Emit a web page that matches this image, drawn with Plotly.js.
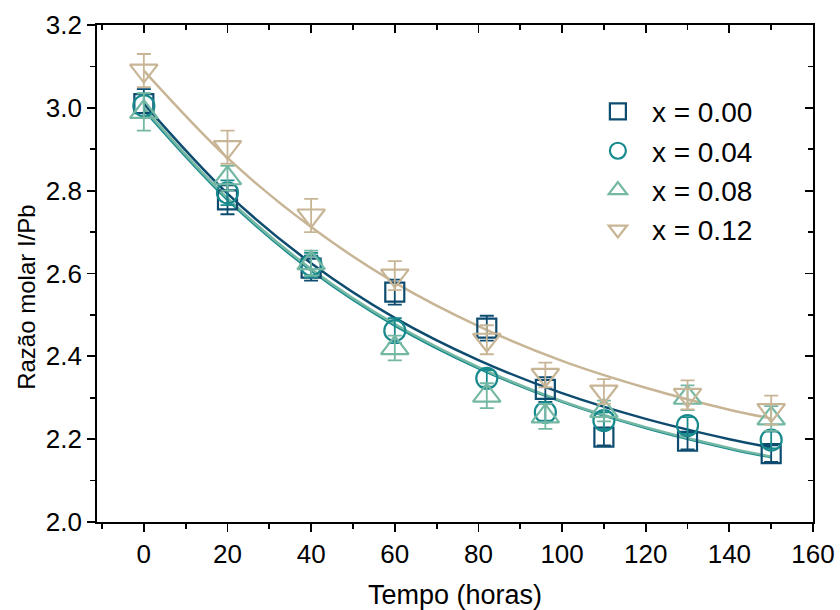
<!DOCTYPE html>
<html>
<head>
<meta charset="utf-8">
<script src="https://cdn.plot.ly/plotly-3.0.1.min.js"></script>
<style>html,body{margin:0;padding:0;background:#fff;}#chart{width:840px;height:610px;}</style>
</head>
<body>
<div id="chart"></div>
<script>
// Measured points (time in hours)
const tempo = [0, 20, 40, 60, 82, 96, 110, 130, 150];
const y000 = [3.01, 2.778, 2.613, 2.555, 2.468, 2.32, 2.205, 2.195, 2.165];
const e000 = [0.035, 0.035, 0.03, 0.03, 0.03, 0.03, 0.02, 0.02, 0.02];
const y004 = [3.005, 2.795, 2.62, 2.462, 2.347, 2.265, 2.245, 2.233, 2.198];
const e004 = [0.03, 0.03, 0.03, 0.03, 0.02, 0.02, 0.02, 0.02, 0.02];
const y008 = [2.99, 2.83, 2.625, 2.42, 2.305, 2.255, 2.268, 2.3, 2.25];
const e008 = [0.045, 0.03, 0.03, 0.03, 0.03, 0.03, 0.025, 0.03, 0.03];
const y012 = [3.09, 2.905, 2.74, 2.595, 2.44, 2.355, 2.315, 2.307, 2.27];
const e012 = [0.04, 0.04, 0.04, 0.035, 0.035, 0.03, 0.03, 0.035, 0.035];

// Fitted curves
const tFit = [0, 20, 40, 60, 80, 100, 120, 140, 150];
const fit000 = [3.01, 2.793, 2.625, 2.493, 2.391, 2.311, 2.249, 2.200, 2.180];
const fit004 = [2.995, 2.778, 2.607, 2.474, 2.371, 2.290, 2.227, 2.177, 2.156];
const fit008 = [3.000, 2.782, 2.611, 2.478, 2.374, 2.292, 2.229, 2.179, 2.158];
const fit012 = [3.09, 2.879, 2.712, 2.578, 2.473, 2.389, 2.324, 2.271, 2.250];

const labels = ['x = 0.00', 'x = 0.04', 'x = 0.08', 'x = 0.12'];
const xTicks = [0, 20, 40, 60, 80, 100, 120, 140, 160];
const xMinor = [-10, 10, 30, 50, 70, 90, 110, 130, 150];
const yTicks = [2.0, 2.2, 2.4, 2.6, 2.8, 3.0, 3.2];
const yTickText = ['2.0', '2.2', '2.4', '2.6', '2.8', '3.0', '3.2'];
const yMinor = [2.1, 2.3, 2.5, 2.7, 2.9, 3.1];

const colors = ['#0e4c6f', '#188a8d', '#74b8a4', '#c8b596'];
const symbols = ['square-open', 'circle-open', 'triangle-up-open', 'triangle-down-open'];
const sizes = [19, 21, 24, 24];

const ys = [y000, y004, y008, y012];
const es = [e000, e004, e008, e012];
const fits = [fit000, fit004, fit008, fit012];

const traces = [];
for (let i = 0; i < 4; i++) {
  traces.push({
    x: tFit, y: fits[i], type: 'scatter', mode: 'lines',
    line: {color: colors[i], width: 2.5, shape: 'spline'},
    showlegend: false, hoverinfo: 'skip'
  });
}
for (let i = 0; i < 4; i++) {
  traces.push({
    x: tempo, y: ys[i], type: 'scatter', mode: 'markers', name: labels[i],
    marker: {symbol: symbols[i], size: sizes[i], color: colors[i], line: {width: 2.2, color: colors[i]}},
    error_y: {type: 'data', array: es[i], visible: true, color: colors[i], thickness: 1.8, width: 7}
  });
}
// invisible trace on the mirror axes so they are drawn
traces.push({x: [0], y: [2.5], xaxis: 'x2', yaxis: 'y2', mode: 'markers', marker: {opacity: 0}, showlegend: false, hoverinfo: 'skip', type: 'scatter'});

const fam = 'Liberation Sans, Arial, sans-serif';
const tickFont = {family: fam, size: 26, color: '#000'};
const xr = [-11.2, 160];
const yr = [2.0, 3.2];

const layout = {
  width: 840, height: 610,
  margin: {l: 97, r: 27, t: 25, b: 88},
  paper_bgcolor: '#fff', plot_bgcolor: '#fff',
  font: tickFont,
  showlegend: true,
  legend: {
    x: 0.68, y: 0.876, xanchor: 'left', yanchor: 'top',
    bgcolor: 'rgba(0,0,0,0)', font: {family: fam, size: 28, color: '#000'},
    itemwidth: 58, tracegroupgap: 0
  },
  annotations: [{
    text: 'Razão molar I/Pb', xref: 'paper', yref: 'paper',
    x: -0.0978, y: 0.453, xanchor: 'center', yanchor: 'middle',
    textangle: -90, showarrow: false,
    font: {family: fam, size: 24, color: '#000'}
  }],
  xaxis: {
    range: xr, tickvals: xTicks,
    ticks: 'outside', ticklen: 8, tickwidth: 1.8, tickcolor: '#000',
    minor: {tickvals: xMinor, ticks: 'outside', ticklen: 5, tickwidth: 1.8, tickcolor: '#000'},
    showline: true, linecolor: '#000', linewidth: 1.8, mirror: true,
    showgrid: false, zeroline: false,
    tickfont: tickFont,
    title: {text: 'Tempo (horas)', font: {family: fam, size: 27, color: '#000'}, standoff: 18}
  },
  yaxis: {
    range: yr, tickvals: yTicks, ticktext: yTickText,
    ticks: 'outside', ticklen: 8, tickwidth: 1.8, tickcolor: '#000',
    minor: {tickvals: yMinor, ticks: 'outside', ticklen: 5, tickwidth: 1.8, tickcolor: '#000'},
    showline: true, linecolor: '#000', linewidth: 1.8, mirror: true,
    showgrid: false, zeroline: false,
    tickfont: tickFont
  },
  xaxis2: {
    overlaying: 'x', side: 'top', anchor: 'y', range: xr,
    tickvals: xTicks, ticks: 'inside', ticklen: 8, tickwidth: 1.8, tickcolor: '#000',
    minor: {tickvals: xMinor, ticks: 'inside', ticklen: 5, tickwidth: 1.8, tickcolor: '#000'},
    showticklabels: false, showgrid: false, zeroline: false, showline: false
  },
  yaxis2: {
    overlaying: 'y', side: 'right', anchor: 'x', range: yr,
    tickvals: yTicks, ticks: 'inside', ticklen: 8, tickwidth: 1.8, tickcolor: '#000',
    minor: {tickvals: yMinor, ticks: 'inside', ticklen: 5, tickwidth: 1.8, tickcolor: '#000'},
    showticklabels: false, showgrid: false, zeroline: false, showline: false
  }
};

Plotly.newPlot('chart', traces, layout, {displayModeBar: false, staticPlot: true});
</script>
</body>
</html>
